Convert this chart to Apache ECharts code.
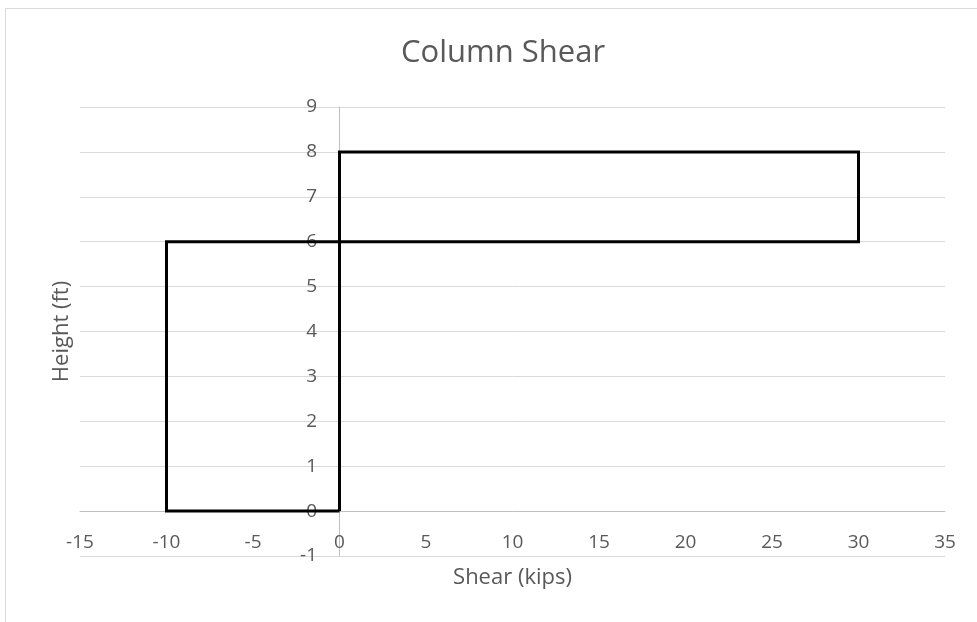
<!DOCTYPE html>
<html><head><meta charset="utf-8">
<script src="https://cdn.jsdelivr.net/npm/echarts@6/dist/echarts.min.js"></script>
<style>html,body{margin:0;padding:0;background:#fff}#c{width:977px;height:622px}</style>
</head><body><div id="c"></div>
<script>
const shear = [0, -10, -10, 0, 0, 30, 30, 0, 0];
const height = [0, 0, 6, 6, 8, 8, 6, 6, 0];
const xTicks = {min: -15, max: 35, step: 5};
const yTicks = {min: -1, max: 9, step: 1};

const pts = shear.map((x, i) => [x, height[i]]);
const font = '"Open Sans", Lato, sans-serif';
const chart = echarts.init(document.getElementById('c'), null, {renderer: 'canvas'});
chart.setOption({
  animation: false,
  backgroundColor: '#fff',
  title: {text: 'Column Shear', left: 396, top: 33,
    textStyle: {fontFamily: font, fontSize: 31, fontWeight: 'normal', color: '#595959'}},
  graphic: [{type: 'rect', shape: {x: 5.5, y: 8.5, width: 980, height: 620},
    style: {fill: 'none', stroke: '#d9d9d9', lineWidth: 1}, silent: true}],
  grid: {left: 80, right: 32, top: 107, bottom: 66, containLabel: false, outerBoundsMode: 'none'},
  xAxis: {type: 'value', min: xTicks.min, max: xTicks.max, interval: xTicks.step,
    name: 'Shear (kips)', nameLocation: 'middle', nameGap: 11,
    nameTextStyle: {fontFamily: font, fontSize: 22, color: '#595959'},
    axisLine: {show: true, onZero: true, lineStyle: {color: '#bfbfbf', width: 1}},
    axisTick: {show: false},
    axisLabel: {margin: -23, fontFamily: font, fontSize: 19, color: '#595959'},
    splitLine: {show: false}},
  yAxis: {type: 'value', min: yTicks.min, max: yTicks.max, interval: yTicks.step,
    name: 'Height (ft)', nameLocation: 'middle', nameGap: 7, nameRotate: 90,
    nameTextStyle: {fontFamily: font, fontSize: 22, color: '#595959'},
    axisLine: {show: true, onZero: true, lineStyle: {color: '#bfbfbf', width: 1}},
    axisTick: {show: false},
    axisLabel: {margin: -237, fontFamily: font, fontSize: 19, color: '#595959'},
    splitLine: {show: true, lineStyle: {color: '#d9d9d9', width: 1}}},
  series: [{type: 'line', data: pts, showSymbol: false, symbol: 'none',
    lineStyle: {color: '#000', width: 3, join: 'miter'}, z: 5}]
});
</script></body></html>
